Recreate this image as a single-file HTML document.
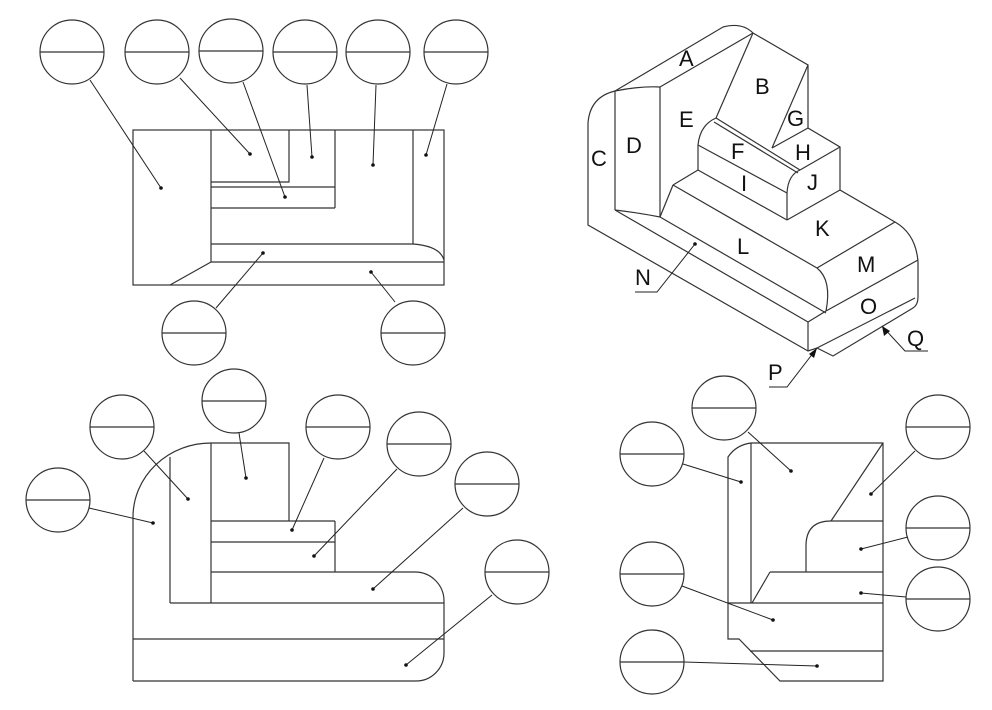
<!DOCTYPE html>
<html><head><meta charset="utf-8"><style>
html,body{margin:0;padding:0;background:#fff}
svg{display:block}
text{font-family:"Liberation Sans",sans-serif;font-size:22px;fill:#111}
</style></head><body>
<svg width="992" height="710" viewBox="0 0 992 710" xmlns="http://www.w3.org/2000/svg">
<g fill="none" stroke="#333" stroke-width="1.2">
<!-- circles -->
<g id="cs">
<circle cx="72" cy="52" r="32"/><line x1="40" y1="52" x2="104" y2="52"/>
<circle cx="157" cy="52" r="32"/><line x1="125" y1="52" x2="189" y2="52"/>
<circle cx="231" cy="51" r="32"/><line x1="199" y1="51" x2="263" y2="51"/>
<circle cx="305" cy="52" r="32"/><line x1="273" y1="52" x2="337" y2="52"/>
<circle cx="378" cy="52" r="32"/><line x1="346" y1="52" x2="410" y2="52"/>
<circle cx="456" cy="52" r="32"/><line x1="424" y1="52" x2="488" y2="52"/>
<circle cx="194" cy="333" r="32"/><line x1="162" y1="333" x2="226" y2="333"/>
<circle cx="413" cy="333" r="32"/><line x1="381" y1="333" x2="445" y2="333"/>

<circle cx="58" cy="500" r="32"/><line x1="26" y1="500" x2="90" y2="500"/>
<circle cx="122" cy="427" r="32"/><line x1="90" y1="427" x2="154" y2="427"/>
<circle cx="234" cy="401" r="32"/><line x1="202" y1="401" x2="266" y2="401"/>
<circle cx="338" cy="427" r="32"/><line x1="306" y1="427" x2="370" y2="427"/>
<circle cx="419" cy="444" r="32"/><line x1="387" y1="444" x2="451" y2="444"/>
<circle cx="487" cy="484" r="32"/><line x1="455" y1="484" x2="519" y2="484"/>
<circle cx="517" cy="572" r="32"/><line x1="485" y1="572" x2="549" y2="572"/>

<circle cx="724" cy="408" r="32"/><line x1="692" y1="408" x2="756" y2="408"/>
<circle cx="652" cy="454" r="32"/><line x1="620" y1="454" x2="684" y2="454"/>
<circle cx="938" cy="427" r="32"/><line x1="906" y1="427" x2="970" y2="427"/>
<circle cx="938" cy="528" r="32"/><line x1="906" y1="528" x2="970" y2="528"/>
<circle cx="938" cy="599" r="32"/><line x1="906" y1="599" x2="970" y2="599"/>
<circle cx="652" cy="574" r="32"/><line x1="620" y1="574" x2="684" y2="574"/>
<circle cx="652" cy="662" r="32"/><line x1="620" y1="662" x2="684" y2="662"/>
</g>

<!-- top view -->
<rect x="133" y="130" width="311" height="155"/>
<line x1="211" y1="130" x2="211" y2="262"/>
<polyline points="211,182 289,182 289,130"/>
<line x1="211" y1="187" x2="335" y2="187"/>
<line x1="335" y1="130" x2="335" y2="208"/>
<line x1="211" y1="208" x2="335" y2="208"/>
<line x1="413" y1="130" x2="413" y2="244"/>
<path d="M211 244 H413 Q440 246 444 260"/>
<line x1="211" y1="262" x2="444" y2="262"/>
<line x1="211" y1="262" x2="170" y2="285"/>

<!-- bottom-left view -->
<path d="M133 681 V517 A78 74 0 0 1 211 443 H289 V521"/>
<line x1="170" y1="457" x2="170" y2="603"/>
<line x1="211" y1="443" x2="211" y2="603"/>
<line x1="211" y1="521" x2="335" y2="521"/>
<line x1="335" y1="521" x2="335" y2="572"/>
<line x1="211" y1="542" x2="335" y2="542"/>
<path d="M211 572 H415 A29 29 0 0 1 444 601 V653 A28 28 0 0 1 416 681 H133"/>
<line x1="170" y1="603" x2="444" y2="603"/>
<line x1="133" y1="639" x2="444" y2="639"/>

<!-- bottom-right view -->
<path d="M728 639 V457 Q736 445 751 443 H883 V681 H780 L739 639 Z"/>
<line x1="751" y1="443" x2="751" y2="603"/>
<line x1="883" y1="443" x2="831" y2="521"/>
<path d="M883 521 H831 Q806 521 806 546 V572"/>
<line x1="770" y1="572" x2="883" y2="572"/>
<line x1="770" y1="572" x2="752" y2="603"/>
<line x1="728" y1="603" x2="883" y2="603"/>
<line x1="750" y1="651" x2="883" y2="651"/>

<!-- iso view -->
<path d="M588 225 V123 Q590 97 615 91 L723 27 Q742 22 753 33 L808 65 V128 L840 147 V190 L895 222 Q916 234 918 262 V297 Q918 305 913 308 L833 356 L817 348 L808 351 Z"/>
<line x1="615" y1="91" x2="615" y2="210"/>
<path d="M615 91 Q640 86 660 87"/>
<line x1="660" y1="87" x2="753" y2="33"/>
<line x1="660" y1="87" x2="660" y2="217"/>
<path d="M615 210 Q640 213 660 217"/>
<line x1="753" y1="33" x2="716" y2="118"/>
<line x1="808" y1="65" x2="772" y2="148"/>
<line x1="772" y1="148" x2="808" y2="128"/>
<path d="M698 145 Q700 125 716 118"/>
<line x1="716" y1="118" x2="800" y2="170"/>
<line x1="714" y1="122" x2="798" y2="173"/>
<line x1="800" y1="170" x2="840" y2="147"/>
<path d="M800 170 Q788 175 787 193 V220"/>
<line x1="787" y1="220" x2="840" y2="190"/>
<line x1="698" y1="145" x2="787" y2="193"/>
<line x1="698" y1="145" x2="698" y2="170"/>
<line x1="698" y1="170" x2="787" y2="220"/>
<line x1="698" y1="170" x2="673" y2="185"/>
<line x1="673" y1="185" x2="660" y2="217"/>
<line x1="673" y1="185" x2="817" y2="268"/>
<line x1="817" y1="268" x2="895" y2="222"/>
<path d="M817 268 Q832 280 826 311"/>
<line x1="826" y1="311" x2="918" y2="260"/>
<line x1="615" y1="210" x2="808" y2="322"/>
<line x1="660" y1="217" x2="826" y2="313"/>
<line x1="808" y1="322" x2="826" y2="311"/>
<line x1="808" y1="322" x2="808" y2="351"/>
<line x1="817" y1="348" x2="915" y2="298"/>
</g>
<g fill="none" stroke="#222" stroke-width="1">
<!-- leaders -->
<line x1="90" y1="80" x2="161" y2="188"/>
<line x1="180" y1="78" x2="250" y2="154"/>
<line x1="243" y1="82" x2="285" y2="197"/>
<line x1="307" y1="85" x2="312" y2="157"/>
<line x1="376" y1="85" x2="373" y2="165"/>
<line x1="447" y1="84" x2="426" y2="155"/>
<line x1="216" y1="308" x2="263" y2="253"/>
<line x1="395" y1="302" x2="371" y2="272"/>
<line x1="89" y1="508" x2="153" y2="523"/>
<line x1="144" y1="451" x2="188" y2="499"/>
<line x1="239" y1="433" x2="246" y2="478"/>
<line x1="324" y1="458" x2="292" y2="530"/>
<line x1="397" y1="469" x2="314" y2="556"/>
<line x1="463" y1="508" x2="373" y2="589"/>
<line x1="492" y1="595" x2="406" y2="665"/>
<line x1="683" y1="464" x2="741" y2="482"/>
<line x1="748" y1="432" x2="791" y2="471"/>
<line x1="915" y1="451" x2="871" y2="494"/>
<line x1="908" y1="537" x2="861" y2="549"/>
<line x1="906" y1="597" x2="861" y2="593"/>
<line x1="682" y1="586" x2="773" y2="620"/>
<line x1="684" y1="662" x2="817" y2="666"/>
<polyline points="695,244 657,292 635,292"/>
<polyline points="882,326 905,351 928,351"/>
<polyline points="817,348 787,387 769,387"/>
</g>
<g fill="#111">
<circle cx="161" cy="188" r="1.8"/><circle cx="250" cy="154" r="1.8"/><circle cx="285" cy="197" r="1.8"/>
<circle cx="312" cy="157" r="1.8"/><circle cx="373" cy="165" r="1.8"/><circle cx="426" cy="155" r="1.8"/>
<circle cx="263" cy="253" r="1.8"/><circle cx="371" cy="272" r="1.8"/>
<circle cx="153" cy="523" r="1.8"/><circle cx="188" cy="499" r="1.8"/><circle cx="246" cy="478" r="1.8"/>
<circle cx="292" cy="530" r="1.8"/><circle cx="314" cy="556" r="1.8"/><circle cx="373" cy="589" r="1.8"/>
<circle cx="406" cy="665" r="1.8"/>
<circle cx="741" cy="482" r="1.8"/><circle cx="791" cy="471" r="1.8"/><circle cx="871" cy="494" r="1.8"/>
<circle cx="861" cy="549" r="1.8"/><circle cx="861" cy="593" r="1.8"/><circle cx="773" cy="620" r="1.8"/>
<circle cx="817" cy="666" r="1.8"/><circle cx="695" cy="244" r="1.8"/>
<polygon points="882,326 884,336 890,331"/>
<polygon points="817,348 809,354 814,358"/>
</g>
<text x="679" y="66">A</text>
<text x="755" y="94">B</text>
<text x="679" y="127">E</text>
<text x="787" y="126">G</text>
<text x="626" y="153">D</text>
<text x="731" y="159">F</text>
<text x="795" y="160">H</text>
<text x="591" y="166">C</text>
<text x="741" y="191">I</text>
<text x="807" y="190">J</text>
<text x="815" y="236">K</text>
<text x="737" y="254">L</text>
<text x="857" y="272">M</text>
<text x="860" y="314">O</text>
<text x="635" y="285">N</text>
<text x="907" y="346">Q</text>
<text x="768" y="380">P</text>
</svg>
</body></html>
